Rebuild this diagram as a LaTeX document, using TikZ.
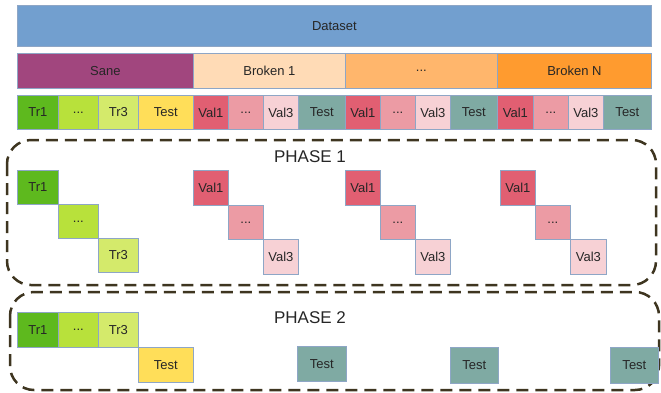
\documentclass[tikz,border=0pt]{standalone}
\usepackage{fontspec}
\setmainfont{Liberation Sans}
\usetikzlibrary{positioning}
\definecolor{dsblue}{HTML}{729FCF}
\definecolor{sanecol}{HTML}{A1467E}
\definecolor{brkA}{HTML}{FFDBB6}
\definecolor{brkB}{HTML}{FFB66C}
\definecolor{brkN}{HTML}{FF9B2F}
\definecolor{trA}{HTML}{5EB91E}
\definecolor{trB}{HTML}{B8E13B}
\definecolor{trC}{HTML}{D4EA6B}
\definecolor{testY}{HTML}{FFDE59}
\definecolor{valA}{HTML}{E15F72}
\definecolor{valB}{HTML}{EC9BA4}
\definecolor{valC}{HTML}{F7D1D5}
\definecolor{testT}{HTML}{7FAAA3}
\definecolor{edgegrey}{HTML}{8EA6C6}
\definecolor{dashcol}{HTML}{3E3520}
\tikzset{
  bar/.style={ draw=edgegrey, line width=0.8pt, inner sep=0pt, anchor=north west,
    text=black!85, font=\fontsize{13}{15}\selectfont }
}
\tikzset{
  cell/.style={ bar, font=\fontsize{13}{15}\selectfont }
}
\tikzset{
  phasebox/.style={ draw=dashcol, line width=2.5pt, rounded corners=24pt,
    dash pattern=on 12pt off 7pt }
}
\tikzset{
  phaselbl/.style={ text=black!85, font=\fontsize{17}{20}\selectfont }
}

\begin{document}
\begin{tikzpicture}[x=1pt, y=-1pt]
      \useasboundingbox (0,0) rectangle (661,392);

      % top rows
      \node[bar, fill=dsblue, minimum width=634, minimum height=41] (dataset) at (17,5) {Dataset};

      \node[bar, fill=sanecol, minimum width=176, minimum height=35] (sane) at (17,53) {Sane};
      \node[bar, fill=brkA, minimum width=152, minimum height=35] (brk1) at (193,53) {Broken 1};
      \node[bar, fill=brkB, minimum width=152, minimum height=35] (brkdots) at (345,53) {...};
      \node[bar, fill=brkN, minimum width=154, minimum height=35] (brkN) at (497,53) {Broken N};

      \node[cell, fill=trA, minimum width=41, minimum height=34] (tr1) at (17,95) {Tr1};
      \node[cell, fill=trB, minimum width=40, minimum height=34] (trdots) at (58,95) {...};
      \node[cell, fill=trC, minimum width=40, minimum height=34] (tr3) at (98,95) {Tr3};
      \node[cell, fill=testY, minimum width=55, minimum height=34] (test0) at (138,95) {Test};

      \node[cell, fill=valA, minimum width=35, minimum height=34] (val1a) at (193,95) {Val1};
      \node[cell, fill=valB, minimum width=35, minimum height=34] (valdotsa) at (228,95) {...};
      \node[cell, fill=valC, minimum width=35, minimum height=34] (val3a) at (263,95) {Val3};
      \node[cell, fill=testT, minimum width=47, minimum height=34] (testa) at (298,95) {Test};

      \node[cell, fill=valA, minimum width=35, minimum height=34] (val1b) at (345,95) {Val1};
      \node[cell, fill=valB, minimum width=35, minimum height=34] (valdotsb) at (380,95) {...};
      \node[cell, fill=valC, minimum width=35, minimum height=34] (val3b) at (415,95) {Val3};
      \node[cell, fill=testT, minimum width=47, minimum height=34] (testb) at (450,95) {Test};

      \node[cell, fill=valA, minimum width=36, minimum height=34] (val1c) at (497,95) {Val1};
      \node[cell, fill=valB, minimum width=35, minimum height=34] (valdotsc) at (533,95) {...};
      \node[cell, fill=valC, minimum width=35, minimum height=34] (val3c) at (568,95) {Val3};
      \node[cell, fill=testT, minimum width=48, minimum height=34] (testc) at (603,95) {Test};

      % phase 1
      \draw[phasebox] (7,140) rectangle (656,285);
      \node[phaselbl] (ph1) at (310,157) {PHASE 1};

      \node[cell, fill=trA, minimum width=41, minimum height=34] (p1tr1) at (17,170) {Tr1};
      \node[cell, fill=trB, minimum width=40, minimum height=34] (p1trdots) at (58,204) {...};
      \node[cell, fill=trC, minimum width=40, minimum height=34] (p1tr3) at (98,238) {Tr3};

      \node[cell, fill=valA, minimum width=35, minimum height=35] (p1val1a) at (193,170) {Val1};
      \node[cell, fill=valB, minimum width=35, minimum height=34] (p1valdotsa) at (228,205) {...};
      \node[cell, fill=valC, minimum width=35, minimum height=35] (p1val3a) at (263,239) {Val3};

      \node[cell, fill=valA, minimum width=35, minimum height=35] (p1val1b) at (345,170) {Val1};
      \node[cell, fill=valB, minimum width=35, minimum height=34] (p1valdotsb) at (380,205) {...};
      \node[cell, fill=valC, minimum width=35, minimum height=35] (p1val3b) at (415,239) {Val3};

      \node[cell, fill=valA, minimum width=35, minimum height=35] (p1val1c) at (500,170) {Val1};
      \node[cell, fill=valB, minimum width=35, minimum height=34] (p1valdotsc) at (535,205) {...};
      \node[cell, fill=valC, minimum width=36, minimum height=35] (p1val3c) at (570,239) {Val3};

      % phase 2
      \draw[phasebox] (10,292) rectangle (659,390);
      \node[phaselbl] (ph2) at (310,318) {PHASE 2};

      \node[cell, fill=trA, minimum width=41, minimum height=35] (p2tr1) at (17,312) {Tr1};
      \node[cell, fill=trB, minimum width=40, minimum height=35] (p2trdots) at (58,312) {...};
      \node[cell, fill=trC, minimum width=40, minimum height=35] (p2tr3) at (98,312) {Tr3};
      \node[cell, fill=testY, minimum width=55, minimum height=35] (p2test0) at (138,347) {Test};

      \node[cell, fill=testT, minimum width=49, minimum height=35] (p2testa) at (297,346) {Test};
      \node[cell, fill=testT, minimum width=48, minimum height=36] (p2testb) at (450,347) {Test};
      \node[cell, fill=testT, minimum width=48, minimum height=36] (p2testc) at (610,347) {Test};
    \end{tikzpicture}
\end{document}
